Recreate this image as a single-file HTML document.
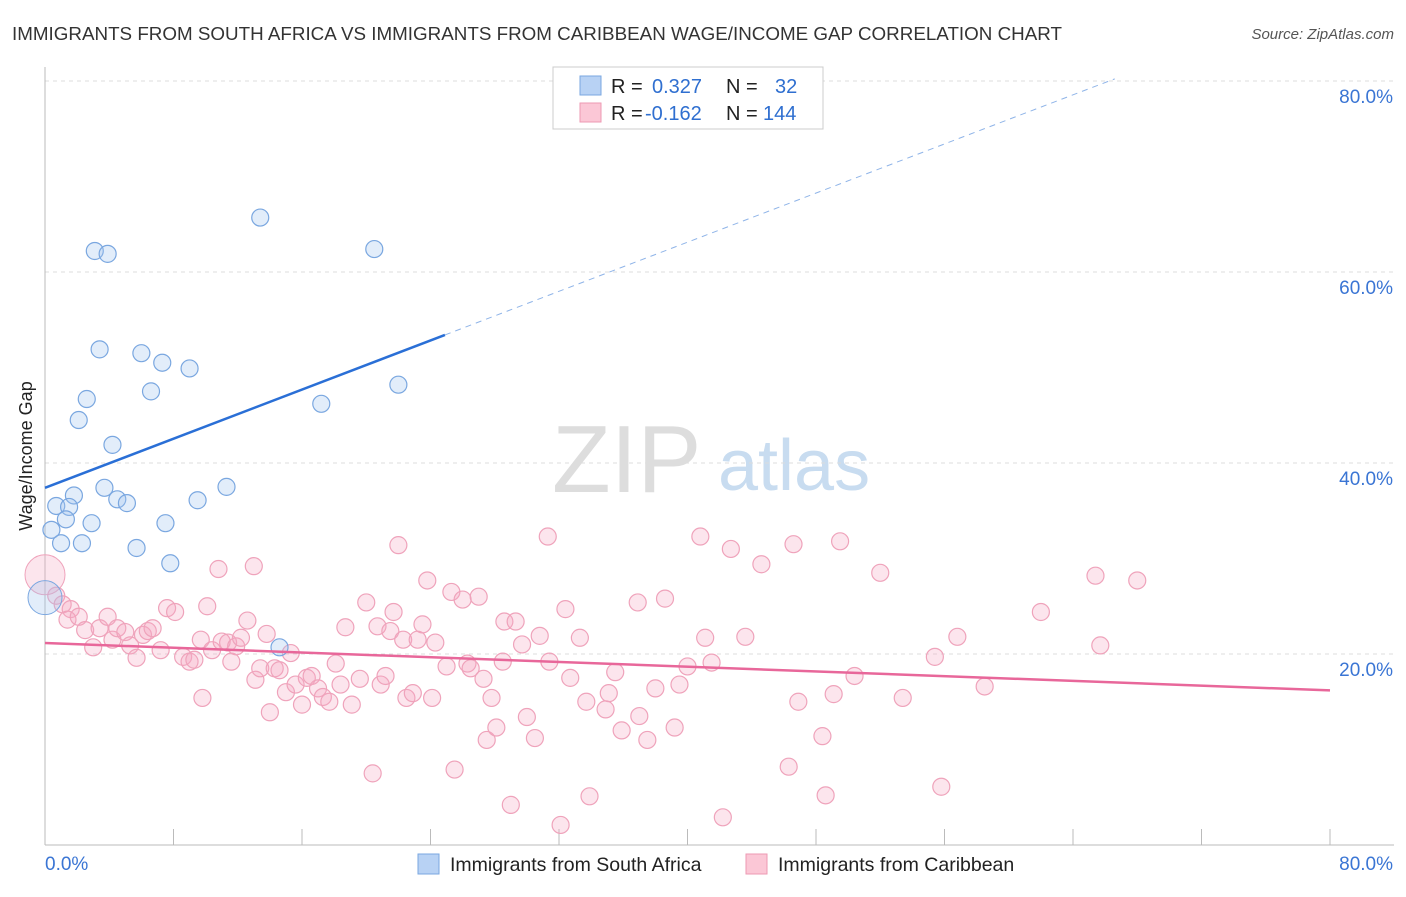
<!DOCTYPE html>
<html><head><meta charset="utf-8"><style>
body{margin:0;background:#fff;font-family:"Liberation Sans",sans-serif;}
svg text{font-family:"Liberation Sans",sans-serif;}
</style></head><body>
<svg id="chart" width="1406" height="892">
<text x="12" y="40" font-size="18.5" fill="#333" textLength="1050" lengthAdjust="spacingAndGlyphs">IMMIGRANTS FROM SOUTH AFRICA VS IMMIGRANTS FROM CARIBBEAN WAGE/INCOME GAP CORRELATION CHART</text>
<text x="1394" y="39" font-size="15" fill="#555" text-anchor="end" font-style="italic">Source: ZipAtlas.com</text>
<text x="32" y="456" font-size="18" fill="#222" text-anchor="middle" transform="rotate(-90 32 456)">Wage/Income Gap</text>
<g><text x="552" y="492" font-size="96" fill="#ddd" font-family="Liberation Serif">ZIP</text><text x="718" y="490" font-size="72" fill="#c8dcf0">atlas</text></g>
<g id="grid"></g><g id="axes"></g><g id="pts"></g><g id="lines"></g>
<g>
<rect x="553" y="67" width="270" height="62" fill="#fff" stroke="#ccc"/>
<rect x="580" y="76" width="21" height="19" fill="#b8d2f4" stroke="#7aa7e0"/>
<rect x="580" y="103" width="21" height="19" fill="#fbc7d6" stroke="#ee9ab3"/>
<text x="611" y="93" font-size="20" fill="#222">R = <tspan fill="#2f6fd0" x="652">0.327</tspan><tspan x="726" fill="#222">N =</tspan><tspan x="775" fill="#2f6fd0">32</tspan></text>
<text x="611" y="120" font-size="20" fill="#222">R = <tspan fill="#2f6fd0" x="645">-0.162</tspan><tspan x="726" fill="#222">N =</tspan><tspan x="763" fill="#2f6fd0">144</tspan></text>
</g>
<g>
<rect x="418" y="854" width="21" height="20" fill="#b8d2f4" stroke="#7aa7e0"/>
<text x="450" y="871" font-size="19.5" fill="#222">Immigrants from South Africa</text>
<rect x="746" y="854" width="21" height="20" fill="#fbc7d6" stroke="#ee9ab3"/>
<text x="778" y="871" font-size="19.5" fill="#222">Immigrants from Caribbean</text>
</g>
</svg>
<script>
const yTicks=[20,40,60,80];
const blueX=[13.4,3.1,3.9,20.5,3.4,6.0,7.3,9.0,6.6,2.6,2.1,22.0,17.2,4.2,3.7,1.8,4.5,5.1,11.3,9.5,0.7,1.5,1.3,2.9,7.5,0.4,1.0,2.3,5.7,7.8,14.6];
const blueY=[65.7,62.2,61.9,62.4,51.9,51.5,50.5,49.9,47.5,46.7,44.5,48.2,46.2,41.9,37.4,36.6,36.2,35.8,37.5,36.1,35.5,35.4,34.1,33.7,33.7,33.0,31.6,31.6,31.1,29.5,20.7];
const pinkX=[0.7,1.1,1.6,1.4,2.1,2.5,3.0,3.4,3.9,4.2,4.5,5.0,5.3,5.7,6.1,6.4,6.7,7.2,7.6,8.1,8.6,9.0,9.3,9.7,9.8,10.1,10.4,10.8,11.0,11.4,11.6,11.9,12.2,12.6,13.0,13.1,13.4,13.8,14.0,14.3,14.6,15.0,15.3,15.6,16.0,16.3,16.6,17.0,17.3,17.7,18.1,18.4,18.7,19.1,19.6,20.0,20.4,20.7,20.9,21.2,21.5,21.7,22.0,22.3,22.5,22.9,23.2,23.5,23.8,24.1,24.3,25.0,25.3,25.5,26.0,26.3,26.5,27.0,27.3,27.5,27.8,28.1,28.5,28.6,29.0,29.3,29.7,30.0,30.5,30.8,31.3,31.4,32.1,32.4,32.7,33.3,33.7,33.9,35.1,34.9,35.5,35.9,36.9,37.0,37.5,38.0,38.6,39.2,39.5,40.0,40.8,41.1,41.5,42.2,42.7,43.6,44.6,46.3,46.6,46.9,48.6,48.4,49.1,49.5,50.4,52.0,53.4,55.4,55.8,56.8,58.5,62.0,65.4,65.7,68.0];
const pinkY=[26.1,25.2,24.7,23.6,23.9,22.5,20.7,22.7,23.9,21.5,22.7,22.3,20.9,19.6,22.0,22.4,22.7,20.4,24.8,24.4,19.7,19.2,19.4,21.5,15.4,25.0,20.4,28.9,21.3,21.2,19.2,20.8,21.7,23.5,29.2,17.3,18.5,22.1,13.9,18.5,18.3,16.0,20.1,16.8,14.7,17.5,17.7,16.4,15.5,15.0,19.0,16.8,22.8,14.7,17.4,25.4,7.5,22.9,16.8,17.7,22.4,24.4,31.4,21.5,15.4,15.9,21.5,23.1,27.7,15.4,21.2,18.7,26.5,7.9,25.7,19.0,18.5,26.0,17.4,11.0,15.4,12.3,19.2,23.4,4.2,23.4,21.0,13.4,11.2,21.9,32.3,19.2,2.1,24.7,17.5,21.7,15.0,5.1,15.9,14.2,18.1,12.0,25.4,13.5,11.0,16.4,25.8,12.3,16.8,18.7,32.3,21.7,19.1,2.9,31.0,21.8,29.4,8.2,31.5,15.0,5.2,11.4,15.8,31.8,17.7,28.5,15.4,19.7,6.1,21.8,16.6,24.4,28.2,20.9,27.7];
const blueLine=[37.4,0.643];
const pinkLine=[21.15,-0.062];
const NS="http://www.w3.org/2000/svg";
const X0=45,X1=1330,Y0=845,Y80=81;
function sx(v){return X0+(X1-X0)*v/80;}
function sy(v){return Y0-(Y0-Y80)*v/80;}
function mk(p,t,a){const e=document.createElementNS(NS,t);for(const k in a)e.setAttribute(k,a[k]);document.getElementById(p).appendChild(e);return e;}
yTicks.forEach(t=>{
 const l=mk('grid','line',{x1:X0,x2:1394,y1:sy(t),y2:sy(t),stroke:'#ddd','stroke-dasharray':'4,4'});
 
 
 const tx=mk('grid','text',{x:1393,y:sy(t)+22,'font-size':19,fill:'#3a75d4','text-anchor':'end'});
 tx.textContent=t.toFixed(1)+'%';
 
 
});
let a=mk('axes','line',{x1:X0,x2:X0,y1:67,y2:Y0,stroke:'#bbb'});


a=mk('axes','line',{x1:X0,x2:1394,y1:Y0,y2:Y0,stroke:'#bbb'});


for(let v=0;v<=80;v+=8){const t=mk('axes','line',{x1:sx(v),x2:sx(v),y1:Y0,y2:Y0-16,stroke:'#bbb'});
 
 }
[['0.0%',45,'start'],['80.0%',1393,'end']].forEach(d=>{const t=mk('axes','text',{x:d[1],y:870,'font-size':19,fill:'#3a75d4','text-anchor':d[2]});t.textContent=d[0];
 
 });
pinkX.forEach((x,i)=>{const c=mk('pts','circle',{cx:sx(x),cy:sy(pinkY[i]),r:8.5,fill:'rgba(246,170,195,0.3)',stroke:'#efa3bb','stroke-width':1.2});
 
 });
blueX.forEach((x,i)=>{const c=mk('pts','circle',{cx:sx(x),cy:sy(blueY[i]),r:8.5,fill:'rgba(160,196,240,0.3)',stroke:'#7aa7e0','stroke-width':1.2});
 
 });
let b=mk('pts','circle',{cx:sx(0),cy:sy(28.3),r:20,fill:'rgba(246,170,195,0.3)',stroke:'#efa3bb'});


b=mk('pts','circle',{cx:sx(0),cy:sy(25.9),r:17,fill:'rgba(160,196,240,0.3)',stroke:'#7aa7e0'});


let l=mk('lines','line',{x1:sx(0),y1:sy(blueLine[0]),x2:sx(24.9),y2:sy(blueLine[0]+blueLine[1]*24.9),stroke:'#2a6fd6','stroke-width':2.5});


l=mk('lines','line',{x1:sx(24.9),y1:sy(blueLine[0]+blueLine[1]*24.9),x2:sx(66.6),y2:sy(blueLine[0]+blueLine[1]*66.6),stroke:'#8fb4e8','stroke-width':1,'stroke-dasharray':'6,5'});


l=mk('lines','line',{x1:sx(0),y1:sy(pinkLine[0]),x2:sx(80),y2:sy(pinkLine[0]+pinkLine[1]*80),stroke:'#e8679a','stroke-width':2.5});


</script>
</body></html>
